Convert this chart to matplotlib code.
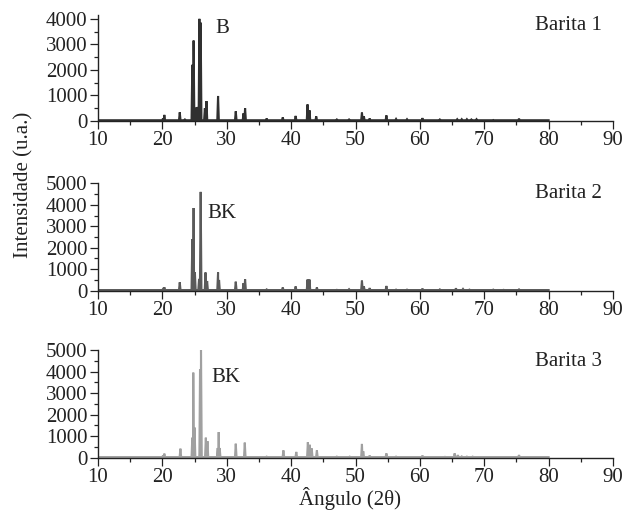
import matplotlib
matplotlib.use('Agg')
import matplotlib.pyplot as plt
import numpy as np
from matplotlib.ticker import MultipleLocator

plt.rcParams['font.family'] = ['Liberation Serif', 'DejaVu Serif']
plt.rcParams['font.size'] = 15

# peak positions (2theta) and intensities
b1_pos = [20.1, 20.3, 22.7, 23.5, 24.65, 24.85, 25.2, 25.5, 25.75, 25.95, 26.6, 26.85,
          28.65, 31.4, 32.6, 32.85, 36.2, 38.7, 40.7, 42.55, 42.85, 43.9, 47.1, 49.0,
          51.0, 51.3, 52.2, 54.8, 56.3, 58.0, 60.4, 63.1, 65.8, 66.5, 67.3, 68.0,
          68.8, 71.4, 75.4]
b1_int = [100, 240, 340, 60, 2200, 3150, 520, 550, 4000, 3850, 500, 780,
          980, 380, 300, 500, 100, 140, 200, 650, 420, 180, 60, 60,
          330, 180, 100, 220, 80, 70, 110, 60, 70, 70, 70, 60,
          70, 40, 90]

b2_pos = [20.1, 20.3, 22.7, 24.65, 24.85, 25.05, 25.7, 25.95, 26.7, 26.95, 28.65, 28.8,
          31.4, 32.6, 32.85, 36.2, 38.7, 40.7, 42.55, 42.85, 44.0, 47.1, 49.0, 51.0,
          51.3, 52.2, 54.8, 56.3, 58.0, 60.4, 63.1, 65.6, 66.7, 67.7, 71.4, 73.0, 75.4]
b2_int = [80, 160, 390, 2400, 3850, 850, 550, 4600, 850, 450, 850, 500,
          420, 350, 530, 60, 150, 200, 520, 520, 150, 40, 70, 470,
          200, 120, 220, 50, 50, 100, 60, 110, 80, 50, 50, 40, 60]

b3_pos = [20.1, 20.3, 22.8, 24.65, 24.8, 25.0, 25.75, 25.85, 26.0, 26.75, 27.0, 28.6,
          28.75, 28.9, 31.4, 32.8, 36.2, 38.8, 40.8, 42.6, 42.9, 43.2, 44.0, 47.1,
          49.1, 51.0, 51.2, 52.2, 54.8, 56.3, 60.4, 63.9, 65.4, 65.9, 66.5, 67.3,
          68.2, 75.4]
b3_int = [100, 190, 420, 930, 3950, 1400, 230, 4100, 5000, 930, 770, 450,
          1190, 450, 650, 700, 50, 340, 270, 720, 600, 430, 340, 50,
          50, 640, 300, 100, 200, 50, 100, 40, 200, 120, 60, 50,
          50, 120]

names = ["Barita 1", "Barita 2", "Barita 3"]
tags = ["B", "BK", "BK"]
scan_start, scan_end, baseline = 10, 80, 30

W, H = 627, 513
fig = plt.figure(figsize=(W / 100, H / 100), dpi=100)

# panel boxes in pixels: left, bottom(from top), top(from top), ymax
boxes = [(98, 121, 15, 4150), (98, 290.7, 183.3, 5000), (98, 457.7, 350, 5000)]
colors = ['#303030', '#5a5a5a', '#a0a0a0']
tag_pos = [(28.2, 0.873), (27.0, 0.72), (27.65, 0.745)]
name_y = [0.90, 0.905, 0.889]
series = [(b1_pos, b1_int), (b2_pos, b2_int), (b3_pos, b3_int)]
hw = 0.12

for i, (pos, inten) in enumerate(series):
    left, bot, top, ymax = boxes[i]
    ax = fig.add_axes([left / W, 1 - bot / H, 515 / W, (bot - top) / H])
    xs = [scan_start]
    ys = [baseline]
    for p, h in zip(pos, inten):
        xs += [p - hw, p, p + hw]
        ys += [baseline, h, baseline]
    xs.append(scan_end)
    ys.append(baseline)
    xs = np.array(xs)
    ys = np.array(ys)
    order = np.argsort(xs, kind='stable')
    ax.plot(xs[order], ys[order], color=colors[i], lw=1.5, solid_joinstyle='miter')

    ax.set_xlim(10, 90)
    ax.set_ylim(0, ymax)
    ax.xaxis.set_major_locator(MultipleLocator(10))
    ax.xaxis.set_minor_locator(MultipleLocator(5))
    ax.yaxis.set_major_locator(MultipleLocator(1000))
    ax.yaxis.set_minor_locator(MultipleLocator(500))
    for s in ['top', 'right']:
        ax.spines[s].set_visible(False)
    for s in ['left', 'bottom']:
        ax.spines[s].set_linewidth(1.0)
        ax.spines[s].set_color('#222222')
    ax.tick_params(which='major', direction='out', length=5.5, width=0.9,
                   colors='#222222', labelsize=15, pad=2)
    ax.tick_params(which='minor', direction='out', length=3, width=0.9, colors='#222222')
    ax.set_facecolor('none')

    ax.text(tag_pos[i][0], tag_pos[i][1], tags[i], transform=ax.get_xaxis_transform(),
            ha='left', va='center', fontsize=15, color='#222222')
    ax.text(88.3, name_y[i], names[i], transform=ax.get_xaxis_transform(),
            ha='right', va='center', fontsize=15, color='#222222')

fig.text(24 / W, 1 - 185 / H, "Intensidade (u.a.)", rotation=90, ha='center', va='center',
         fontsize=15, color='#222222')
fig.text(350 / W, 1 - 498 / H, "Ângulo (2θ)", ha='center', va='center',
         fontsize=15, color='#222222')

fig.savefig("out.png", dpi=100)
